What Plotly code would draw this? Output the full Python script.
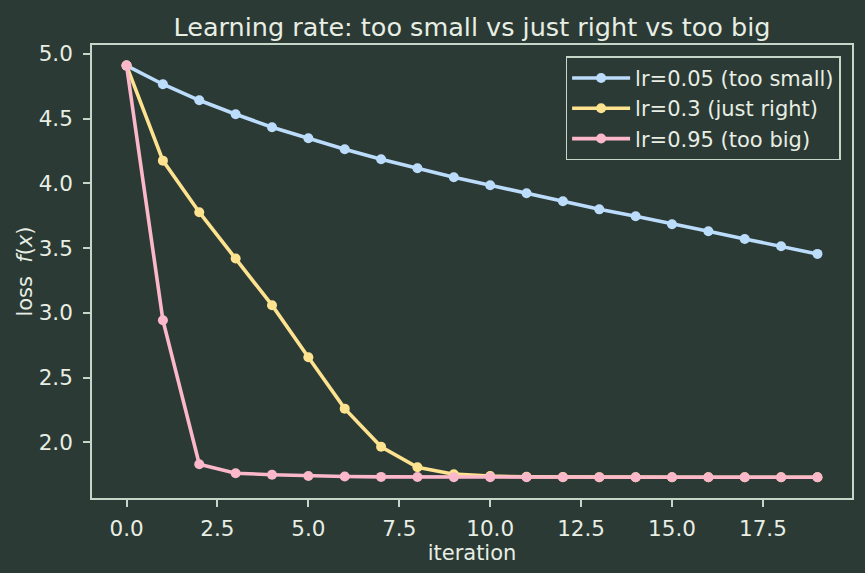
import plotly.graph_objects as go

iterations = list(range(20))
loss_small = [4.91, 4.766, 4.642, 4.534, 4.434, 4.349, 4.264, 4.187, 4.117, 4.048,
              3.986, 3.924, 3.863, 3.800, 3.746, 3.685, 3.631, 3.571, 3.515, 3.456]
loss_right = [4.91, 4.176, 3.778, 3.420, 3.060, 2.658, 2.261, 1.967, 1.808, 1.755,
              1.740, 1.735, 1.733, 1.732, 1.731, 1.731, 1.731, 1.731, 1.731, 1.731]
loss_big = [4.91, 2.944, 1.832, 1.762, 1.751, 1.741, 1.737, 1.734, 1.733, 1.732,
            1.732, 1.731, 1.731, 1.731, 1.731, 1.731, 1.731, 1.731, 1.731, 1.731]
labels = ["lr=0.05 (too small)", "lr=0.3 (just right)", "lr=0.95 (too big)"]
colors = ["#bcdcfc", "#fde28f", "#fbb8cb"]

BG = "#2b3a34"
TXT = "#e8eee4"
SPINE = "#c6d6c9"
FONT = "DejaVu Sans"

fig = go.Figure()
for ys, name, c in zip([loss_small, loss_right, loss_big], labels, colors):
    fig.add_trace(go.Scatter(
        x=iterations, y=ys, name=name, mode="lines+markers",
        line=dict(color=c, width=3.6),
        marker=dict(color=c, size=10),
    ))

axis_common = dict(
    showline=True, mirror=True, linecolor=SPINE, linewidth=1.6,
    ticks="outside", ticklen=7, tickwidth=1.6, tickcolor=SPINE,
    showgrid=False, zeroline=False,
    tickfont=dict(family=FONT, size=21.5, color=TXT),
)

fig.update_layout(
    width=865, height=573,
    paper_bgcolor=BG, plot_bgcolor=BG,
    margin=dict(l=92, r=13, t=45, b=75),
    title=dict(text="Learning rate: too small vs just right vs too big",
               x=0.5, xref="paper", y=0.953, yref="container",
               xanchor="center", yanchor="middle",
               font=dict(family=FONT, size=25.5, color=TXT)),
    xaxis=dict(range=[-0.95, 19.95], tickvals=[0, 2.5, 5, 7.5, 10, 12.5, 15, 17.5],
               ticktext=["0.0", "2.5", "5.0", "7.5", "10.0", "12.5", "15.0", "17.5"],
               ticklabelstandoff=3,
               title=dict(text="iteration", font=dict(family=FONT, size=21, color=TXT), standoff=5),
               **axis_common),
    yaxis=dict(range=[1.571, 5.069], tickvals=[2.0, 2.5, 3.0, 3.5, 4.0, 4.5, 5.0],
               ticktext=["2.0", "2.5", "3.0", "3.5", "4.0", "4.5", "5.0"],
               ticklabelstandoff=6,
               title=dict(text="loss  <i>f</i>(<i>x</i>)", font=dict(family=FONT, size=21, color=TXT), standoff=0),
               **axis_common),
    legend=dict(x=0.985, y=0.975, xanchor="right", yanchor="top",
                bgcolor=BG, bordercolor=SPINE, borderwidth=1.5,
                font=dict(family=FONT, size=21, color=TXT),
                itemwidth=58, tracegroupgap=0),
    showlegend=True,
)

fig.write_html("out.html")
